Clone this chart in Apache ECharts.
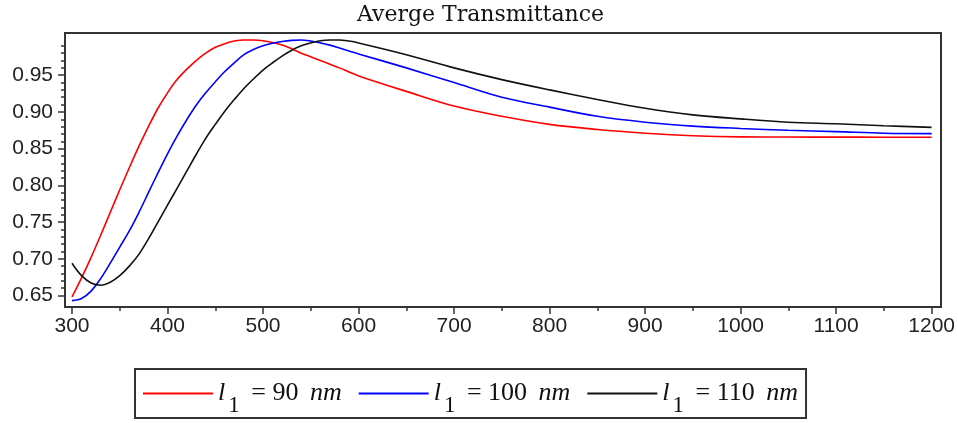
<!DOCTYPE html>
<html><head><meta charset="utf-8">
<script src="https://cdn.jsdelivr.net/npm/echarts@6/dist/echarts.min.js"></script>
<style>html,body{margin:0;padding:0;background:#fff}#c{width:958px;height:423px}</style>
</head><body><div id="c"></div>
<script>
// ---- data ----
const titleText = 'Averge Transmittance';
const wavelengths = [300,310,320,330,340,350,360,370,380,390,400,410,420,430,440,450,460,470,480,490,500,510,520,530,540,550,560,570,580,590,600,650,700,750,800,850,900,950,1000,1050,1100,1150,1200];
const t90  = [0.648,0.674,0.702,0.732,0.763,0.794,0.824,0.853,0.880,0.905,0.926,0.944,0.958,0.970,0.980,0.988,0.993,0.9965,0.998,0.998,0.997,0.9945,0.991,0.986,0.980,0.975,0.970,0.965,0.960,0.9545,0.949,0.928,0.908,0.894,0.883,0.876,0.871,0.8675,0.866,0.8658,0.8657,0.8656,0.8655];
const t100 = [0.643,0.646,0.656,0.673,0.694,0.716,0.738,0.763,0.790,0.817,0.843,0.867,0.889,0.909,0.926,0.941,0.955,0.967,0.978,0.985,0.990,0.9935,0.996,0.9975,0.998,0.9965,0.994,0.991,0.987,0.983,0.979,0.960,0.940,0.920,0.9065,0.894,0.886,0.8807,0.8775,0.875,0.8732,0.871,0.8705];
const t110 = [0.694,0.677,0.667,0.664,0.668,0.677,0.690,0.706,0.727,0.750,0.773,0.796,0.819,0.842,0.864,0.883,0.901,0.917,0.932,0.945,0.957,0.967,0.976,0.984,0.990,0.994,0.997,0.998,0.998,0.9965,0.994,0.978,0.960,0.944,0.930,0.917,0.905,0.896,0.8905,0.886,0.8838,0.8812,0.879];
const thicknesses = [90, 100, 110];
const xTicks = [300,400,500,600,700,800,900,1000,1100,1200];
const yTicks = [0.65,0.70,0.75,0.80,0.85,0.90,0.95];

const seriesValues = [t90, t100, t110];
const colors = ['#ff0000', '#0000ff', '#111111'];
const names = thicknesses.map(t => 'l1 = ' + t + ' nm');

const chart = echarts.init(document.getElementById('c'), null, {renderer: 'canvas'});
const labelFont = {fontFamily: 'Liberation Sans', fontSize: 21, color: '#222'};

chart.setOption({
  animation: false,
  backgroundColor: '#fff',
  title: {
    text: titleText, left: 357, top: 3, padding: 0,
    textStyle: {fontFamily: 'DejaVu Serif', fontSize: 22, fontWeight: 'normal', color: '#111', lineHeight: 24}
  },
  grid: {left: 72, right: 24, top: 38.5, bottom: 127.5, containLabel: false},
  graphic: [{
    type: 'rect', z: 0, silent: true,
    shape: {x: 65, y: 33, width: 876, height: 274},
    style: {fill: 'none', stroke: '#333', lineWidth: 2}
  }],
  xAxis: {
    type: 'value', min: 300, max: 1200, interval: 100, offset: 11.5,
    axisLine: {show: false},
    axisTick: {show: true, length: 7, lineStyle: {color: '#333', width: 1.5}, customValues: xTicks},
    minorTick: {show: true, splitNumber: 2, length: 4, lineStyle: {color: '#333', width: 1.5}},
    splitLine: {show: false},
    axisLabel: Object.assign({margin: 9, customValues: xTicks, formatter: v => String(v)}, labelFont)
  },
  yAxis: {
    type: 'value', min: 0.65, max: 1.0, interval: 0.05, offset: 7,
    axisLine: {show: false},
    axisTick: {show: true, length: 7, lineStyle: {color: '#333', width: 1.5}, customValues: yTicks},
    minorTick: {show: true, splitNumber: 5, length: 4, lineStyle: {color: '#333', width: 1.5}},
    splitLine: {show: false},
    axisLabel: Object.assign({margin: 12, customValues: yTicks, formatter: v => v.toFixed(2)}, labelFont)
  },
  legend: {
    left: 135, top: 369, orient: 'horizontal',
    padding: [1, 8], itemGap: 17, itemWidth: 70, itemHeight: 14,
    borderColor: '#333', borderWidth: 2,
    data: names.map(n => ({name: n, icon: 'path://M0,0 L70,0 L70,2 L0,2 Z'})),
    formatter: name => {
      const v = name.replace(/^l1 = /, '').replace(/ nm$/, '');
      return '{i|l}{s|1}{n| = ' + v + ' }{i|nm}';
    },
    textStyle: {
      fontFamily: 'Liberation Serif', fontSize: 26, color: '#111',
      rich: {
        i: {fontFamily: 'Liberation Serif', fontStyle: 'italic', fontSize: 26, lineHeight: 28, color: '#111'},
        n: {fontFamily: 'Liberation Serif', fontSize: 26, lineHeight: 28, padding: [0, 5, 0, 4], color: '#111'},
        s: {fontFamily: 'Liberation Serif', fontSize: 23, lineHeight: 22, padding: [24, 1, 0, 3], color: '#111'}
      }
    }
  },
  series: seriesValues.map((vals, k) => ({
    type: 'line', name: names[k], clip: false,
    data: wavelengths.map((w, i) => [w, vals[i]]),
    symbol: 'none', smooth: 0.35,
    lineStyle: {color: colors[k], width: 1.6},
    itemStyle: {color: colors[k]}
  }))
});
</script></body></html>
